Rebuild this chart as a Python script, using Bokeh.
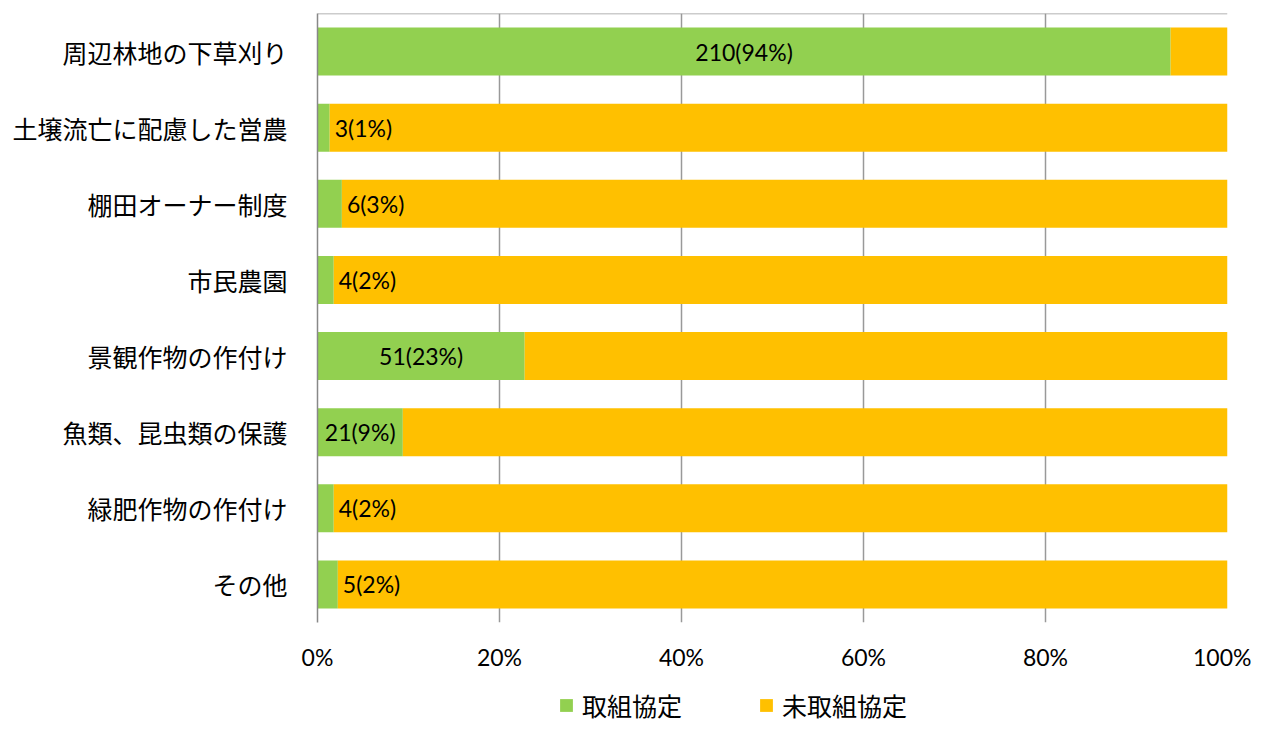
from bokeh.plotting import figure
from bokeh.layouts import column
from bokeh.models import ColumnDataSource, FixedTicker, Legend, LegendItem, NumeralTickFormatter
from bokeh.core.properties import value
from bokeh.embed import file_html
from bokeh.resources import INLINE

categories = ["周辺林地の下草刈り", "土壌流亡に配慮した営農", "棚田オーナー制度", "市民農園",
              "景観作物の作付け", "魚類、昆虫類の保護", "緑肥作物の作付け", "その他"]
counts = [210, 3, 6, 4, 51, 21, 4, 5]
total = 224
series_names = ["取組協定", "未取組協定"]
ticks = [0, 0.2, 0.4, 0.6, 0.8, 1.0]

GREEN = "#92D050"
ORANGE = "#FFC000"
JP = "Noto Sans CJK JP"
NUM = "Lato"

frac = [c / total for c in counts]
labels = [f"{c}({round(c / total * 100)}%)" for c in counts]

src = ColumnDataSource(dict(cat=categories, f=frac, one=[1.0] * len(categories),
                            zero=[0.0] * len(categories)))

p = figure(width=1251, height=677, y_range=list(reversed(categories)), x_range=(0, 1),
           output_backend="svg", toolbar_location=None,
           min_border_left=317, min_border_right=24, min_border_top=13, min_border_bottom=55)
p.outline_line_color = None

r1 = p.hbar(y="cat", left="zero", right="f", height=0.63, source=src,
            fill_color=GREEN, line_color=None)
r2 = p.hbar(y="cat", left="f", right="one", height=0.63, source=src,
            fill_color=ORANGE, line_color=None)

big = [i for i, v in enumerate(frac) if v >= 0.05]
small = [i for i, v in enumerate(frac) if v < 0.05]
src_big = ColumnDataSource(dict(y=[categories[i] for i in big], x=[frac[i] / 2 for i in big],
                                t=[labels[i] for i in big]))
src_small = ColumnDataSource(dict(y=[categories[i] for i in small], x=[frac[i] for i in small],
                                  t=[labels[i] for i in small]))
p.text(x="x", y="y", text="t", source=src_big, text_align="center", text_baseline="middle",
       text_font=value(NUM), text_font_size="23px", text_color="#000000")
p.text(x="x", y="y", text="t", source=src_small, text_align="left", text_baseline="middle",
       x_offset=5, text_font=value(NUM), text_font_size="23px", text_color="#000000")

# top border line of plot area
p.segment(x0=[0], x1=[1], y0=[(categories[0], 0.5)], y1=[(categories[0], 0.5)],
          line_color="#999999", line_width=1.5)

p.xgrid.ticker = FixedTicker(ticks=ticks)
p.xgrid.grid_line_color = "#999999"
p.xgrid.grid_line_width = 1.5
p.ygrid.grid_line_color = None

p.xaxis.ticker = FixedTicker(ticks=ticks)
p.xaxis.formatter = NumeralTickFormatter(format="0%")
p.xaxis.axis_line_color = None
p.xaxis.major_tick_line_color = None
p.xaxis.minor_tick_line_color = None
p.xaxis.major_label_standoff = 14
p.xaxis.major_label_text_font = NUM
p.xaxis.major_label_text_font_size = "23px"
p.xaxis.major_label_text_color = "#000000"

p.yaxis.axis_line_color = "#888888"
p.yaxis.axis_line_width = 1.5
p.yaxis.major_tick_line_color = None
p.yaxis.minor_tick_line_color = None
p.yaxis.major_label_standoff = 24
p.yaxis.major_label_text_font = JP
p.yaxis.major_label_text_font_size = "25px"
p.yaxis.major_label_text_color = "#000000"

# legend strip below the chart
p2 = figure(width=1251, height=46, x_range=(0, 1), y_range=(0, 1),
            output_backend="svg", toolbar_location=None,
            min_border_left=317, min_border_right=24, min_border_top=0, min_border_bottom=0)
p2.axis.visible = False
p2.grid.grid_line_color = None
p2.outline_line_color = None
g1 = p2.rect(x=[-5], y=[-5], width=0.1, height=0.1, fill_color=GREEN, line_color=None)
g2 = p2.rect(x=[-5], y=[-5], width=0.1, height=0.1, fill_color=ORANGE, line_color=None)
legend = Legend(items=[LegendItem(label=series_names[0], renderers=[g1]),
                       LegendItem(label=series_names[1], renderers=[g2])],
                orientation="horizontal", location=(558 - 317, 0),
                glyph_width=16, glyph_height=16, label_standoff=8, spacing=76,
                padding=0, margin=0, border_line_color=None, background_fill_alpha=0,
                label_text_font=JP, label_text_font_size="25px", label_text_color="#000000")
p2.add_layout(legend, "center")

layout = column(p, p2, spacing=0)
open("out.html", "w").write(file_html(layout, INLINE))
